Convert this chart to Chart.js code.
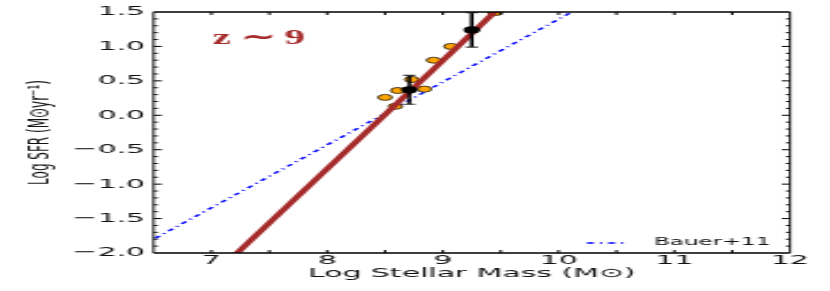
<!DOCTYPE html>
<html>
<head>
<meta charset="utf-8">
<script src="https://cdn.jsdelivr.net/npm/chart.js@4.4.0/dist/chart.umd.min.js"></script>
<style>
  html, body { margin: 0; padding: 0; background: #fff; overflow: hidden; }
  /* the figure is drawn narrow and stretched sideways, like the original */
  #wrap { width: 361px; height: 291px; transform: scaleX(2.2992); transform-origin: 0 0; }
</style>
</head>
<body>
<div id="wrap"><canvas id="chart"></canvas></div>
<script>
// ── values ──
var xTicks = [7, 8, 9, 10, 11, 12];
var xTickLabels = ['7', '8', '9', '10', '11', '12'];
var yTicks = [-2.0, -1.5, -1.0, -0.5, 0.0, 0.5, 1.0, 1.5];
var yTickLabels = ['\u22122.0', '\u22121.5', '\u22121.0', '\u22120.5', '0.0', '0.5', '1.0', '1.5'];

// orange points
var galMass = [8.50, 8.59, 8.61, 8.73, 8.84, 8.92, 9.07, 9.45];
var galSFR  = [0.26, 0.13, 0.36, 0.52, 0.38, 0.80, 1.00, 1.49];

// black points with error bars
var binMass = [8.71, 9.25];
var binSFR  = [0.37, 1.24];
var binErr  = [0.21, 0.25];

// brown fit line and Bauer+11 relation (end points)
var fitMass = [7.0, 9.6];
var fitSFR  = [-2.35, 1.74];
var bauerMass = [6.4, 10.3];
var bauerSFR  = [-1.89, 1.67];

var BROWN = '#a52a2a';
var BLUE = '#0000ff';
var BAUER_DASH = [3, 2.6, 1, 2.6];

function pairs(xs, ys) {
  return xs.map(function (x, i) { return { x: x, y: ys[i] }; });
}

// frame, inward ticks, error bars, legend and the redshift label
var extras = {
  id: 'extras',
  afterDatasetsDraw: function (chart) {
    var ctx = chart.ctx, a = chart.chartArea;
    var xs = chart.scales.x, ys = chart.scales.y;
    ctx.save();

    // error bars
    binMass.forEach(function (m, i) {
      var px = xs.getPixelForValue(m);
      var top = ys.getPixelForValue(binSFR[i] + binErr[i]);
      var bot = ys.getPixelForValue(binSFR[i] - binErr[i]);
      ctx.strokeStyle = '#000';
      ctx.lineWidth = 1.6;
      ctx.beginPath(); ctx.moveTo(px, top); ctx.lineTo(px, bot); ctx.stroke();
      ctx.strokeStyle = '#333';
      ctx.lineWidth = 1.1;
      ctx.beginPath();
      ctx.moveTo(px - 2.6, top); ctx.lineTo(px + 2.6, top);
      ctx.moveTo(px - 2.6, bot); ctx.lineTo(px + 2.6, bot);
      ctx.stroke();
    });

    // frame
    ctx.strokeStyle = '#000';
    ctx.lineWidth = 1.4;
    ctx.beginPath();
    ctx.moveTo(a.left, a.top); ctx.lineTo(a.right, a.top);
    ctx.moveTo(a.left, a.bottom); ctx.lineTo(a.right, a.bottom);
    ctx.stroke();
    ctx.lineWidth = 0.9;
    ctx.beginPath();
    ctx.moveTo(a.left, a.top); ctx.lineTo(a.left, a.bottom);
    ctx.moveTo(a.right, a.top); ctx.lineTo(a.right, a.bottom);
    ctx.stroke();

    // y ticks: major every 0.5, minor every 0.1
    ctx.lineWidth = 1;
    ctx.beginPath();
    for (var i = 1; i < 35; i++) {
      var py = ys.getPixelForValue(-2 + i * 0.1);
      var len = (i % 5 === 0) ? 3.6 : 1.8;
      ctx.moveTo(a.left, py); ctx.lineTo(a.left + len, py);
      ctx.moveTo(a.right, py); ctx.lineTo(a.right - len, py);
    }
    // x ticks every 0.5
    for (var j = 1; j < 11; j++) {
      var px = xs.getPixelForValue(6.5 + j * 0.5);
      ctx.moveTo(px, a.bottom); ctx.lineTo(px, a.bottom - 3);
      ctx.moveTo(px, a.top); ctx.lineTo(px, a.top + 3);
    }
    ctx.stroke();

    // legend, lower right inside the axes
    var ly = a.bottom - 10;
    ctx.strokeStyle = BLUE;
    ctx.lineWidth = 1.4;
    ctx.setLineDash(BAUER_DASH);
    ctx.beginPath();
    ctx.moveTo(a.left + 188.5, ly); ctx.lineTo(a.left + 206.5, ly);
    ctx.stroke();
    ctx.setLineDash([]);
    ctx.fillStyle = '#111';
    ctx.font = '10px "DejaVu Sans"';
    ctx.textBaseline = 'middle';
    ctx.fillText('Bauer+11', a.left + 217.6, ly - 1);

    // z ~ 9 label
    ctx.font = 'bold 22px "Liberation Serif"';
    ctx.fillStyle = BROWN;
    ctx.textBaseline = 'alphabetic';
    var txt = 'z \u223C 9';
    var w = ctx.measureText(txt).width;
    ctx.translate(a.left + 25.8, a.top + 32);
    ctx.scale(40 / w, 1);
    ctx.fillText(txt, 0, 0);

    ctx.restore();
  }
};

new Chart(document.getElementById('chart'), {
  type: 'scatter',
  data: {
    datasets: [
      {
        label: 'Bauer+11',
        data: pairs(bauerMass, bauerSFR),
        showLine: true,
        borderColor: BLUE,
        borderWidth: 1.4,
        borderDash: BAUER_DASH,
        pointRadius: 0,
        clip: 0,
        order: 4
      },
      {
        label: 'galaxies',
        data: pairs(galMass, galSFR),
        backgroundColor: '#ffa500',
        borderColor: '#000',
        borderWidth: 0.7,
        pointRadius: 3,
        order: 3
      },
      {
        label: 'fit',
        data: pairs(fitMass, fitSFR),
        showLine: true,
        borderColor: BROWN,
        borderWidth: 3.3,
        pointRadius: 0,
        clip: 0,
        order: 2
      },
      {
        label: 'binned',
        data: pairs(binMass, binSFR),
        backgroundColor: '#000',
        borderColor: '#000',
        borderWidth: 0,
        pointRadius: 3.6,
        order: 1
      }
    ]
  },
  options: {
    responsive: true,
    maintainAspectRatio: false,
    animation: false,
    devicePixelRatio: 1,
    layout: { padding: { left: 0, right: 17.4, top: 12, bottom: 0 } },
    plugins: { legend: { display: false }, tooltip: { enabled: false } },
    scales: {
      x: {
        type: 'linear',
        min: 6.5,
        max: 12,
        grid: { display: false, drawTicks: false },
        border: { display: false },
        afterBuildTicks: function (s) { s.ticks = xTicks.map(function (v) { return { value: v }; }); },
        afterFit: function (s) { s.height = 38; },
        ticks: {
          autoSkip: false,
          maxRotation: 0,
          padding: 0,
          color: '#111',
          font: { family: 'DejaVu Sans', size: 13 },
          callback: function (v, i) { return xTickLabels[i]; }
        },
        title: {
          display: true,
          text: 'Log Stellar Mass (M\u2299)',
          color: '#111',
          font: { family: 'DejaVu Sans', size: 13 },
          padding: { top: 0, bottom: 9.2 }
        }
      },
      y: {
        type: 'linear',
        min: -2.0,
        max: 1.5,
        grid: { display: false, drawTicks: false },
        border: { display: false },
        afterBuildTicks: function (s) { s.ticks = yTicks.map(function (v) { return { value: v }; }); },
        afterFit: function (s) { s.width = 66.8; },
        ticks: {
          autoSkip: false,
          padding: 3.7,
          color: '#111',
          font: { family: 'DejaVu Sans', size: 13 },
          callback: function (v, i) { return yTickLabels[i]; }
        },
        title: {
          display: true,
          text: 'Log SFR (M\u2299yr\u207B\u00B9)',
          color: '#111',
          font: { family: 'DejaVu Sans', size: 12 },
          padding: { top: 11.1, bottom: 0 }
        }
      }
    }
  },
  plugins: [extras]
});
</script>
</body>
</html>
